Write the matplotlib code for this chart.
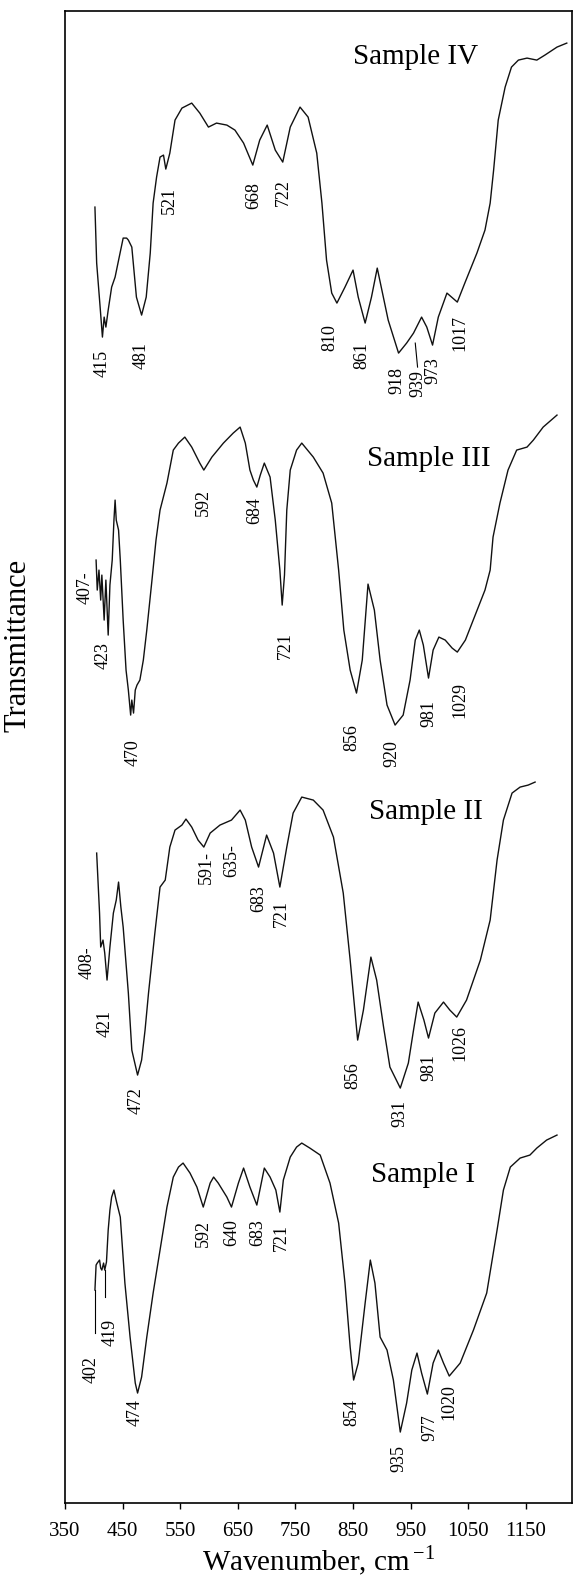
import matplotlib
matplotlib.use("Agg")
import matplotlib.pyplot as plt

plt.rcParams['font.family'] = ['Liberation Serif', 'DejaVu Serif']
plt.rcParams['mathtext.fontset'] = 'custom'
plt.rcParams['mathtext.rm'] = 'Liberation Serif'

# wavenumber (cm-1) and transmittance (a.u., spectra stacked)
wn4 = [402, 405, 411, 415, 418, 421, 425, 431, 437, 442, 451, 457, 460, 466, 474, 483, 491, 498,
       503, 509, 515, 521, 525, 532, 541, 553, 570, 584, 599, 613, 631, 645, 660, 676, 688, 701,
       715, 728, 741, 758, 772, 787, 796, 804, 813, 822, 836, 850, 859, 871, 882, 892, 911, 929,
       943, 955, 969, 978, 988, 998, 1013, 1021, 1031, 1044, 1065, 1079, 1088, 1094, 1102, 1114,
       1125, 1137, 1152, 1169, 1183, 1204, 1221]
t4 = [129.6, 124.0, 119.6, 116.6, 118.6, 117.6, 119.3, 121.6, 122.6, 124.0, 126.5, 126.5, 126.3,
      125.6, 120.6, 118.8, 120.6, 125.0, 130.0, 132.6, 134.6, 134.8, 133.4, 135.0, 138.3, 139.5,
      140.0, 139.0, 137.6, 138.0, 137.8, 137.3, 136.0, 133.8, 136.3, 137.8, 135.3, 134.1, 137.6,
      139.6, 138.6, 135.0, 130.0, 124.3, 121.0, 120.0, 121.6, 123.3, 120.6, 118.0, 120.6, 123.5,
      118.3, 115.0, 116.0, 117.0, 118.6, 117.6, 115.8, 118.6, 121.0, 120.6, 120.1, 122.0, 125.0,
      127.3, 130.0, 133.3, 138.3, 141.6, 143.6, 144.3, 144.5, 144.3, 144.8, 145.6, 146.0]

wn3 = [404, 406, 409, 412, 414, 418, 421, 425, 428, 432, 435, 437, 439, 443, 446, 451, 456, 460,
       464, 466, 469, 472, 475, 480, 486, 492, 501, 508, 515, 527, 538, 547, 558, 570, 584, 591,
       605, 625, 642, 654, 663, 671, 677, 683, 689, 696, 706, 715, 723, 727, 731, 735, 741, 752,
       761, 781, 798, 813, 825, 834, 845, 856, 866, 876, 887, 897, 909, 923, 937, 949, 958, 965,
       972, 981, 989, 999, 1010, 1022, 1031, 1045, 1062, 1079, 1088, 1093, 1105, 1119, 1134, 1152,
       1163, 1180, 1204]
t3 = [94.3, 91.3, 93.3, 90.3, 92.8, 88.3, 92.3, 86.8, 91.8, 94.3, 98.3, 100.3, 98.3, 97.3, 94.3,
      88.3, 83.3, 81.3, 78.8, 80.3, 79.0, 81.3, 81.8, 82.3, 84.3, 87.3, 92.3, 96.3, 99.3, 102.0,
      105.3, 106.0, 106.6, 105.6, 104.0, 103.3, 104.6, 106.0, 107.0, 107.6, 106.0, 103.3, 102.3,
      101.6, 102.8, 104.0, 102.6, 98.3, 93.3, 89.8, 92.8, 99.3, 103.3, 105.3, 106.0, 104.6, 103.0,
      100.0, 93.3, 87.3, 83.3, 81.0, 84.3, 91.9, 89.3, 84.3, 79.8, 77.8, 78.8, 82.3, 86.3, 87.3,
      85.8, 82.5, 85.3, 86.6, 86.3, 85.5, 85.1, 86.3, 88.8, 91.3, 93.3, 96.6, 100.0, 103.3, 105.3,
      105.6, 106.3, 107.6, 108.8]

wn2 = [405, 410, 412, 416, 419, 423, 428, 434, 439, 443, 447, 451, 460, 466, 476, 483, 489, 495,
       506, 515, 524, 532, 541, 553, 560, 570, 581, 591, 602, 619, 639, 654, 663, 674, 686, 700,
       712, 723, 735, 746, 761, 781, 798, 816, 833, 845, 858, 868, 881, 891, 903, 914, 932, 946,
       955, 963, 973, 981, 992, 1007, 1018, 1030, 1047, 1071, 1088, 1100, 1111, 1126, 1140, 1154,
       1166]
t2 = [65.0, 59.0, 55.6, 56.3, 55.0, 52.3, 55.6, 59.0, 60.3, 62.1, 59.6, 57.6, 51.0, 45.3, 42.8,
      44.3, 47.3, 51.0, 57.0, 61.6, 62.3, 65.6, 67.3, 67.8, 68.4, 67.6, 66.3, 65.6, 67.0, 67.8,
      68.3, 69.3, 68.3, 65.6, 63.6, 66.8, 65.0, 61.6, 65.6, 69.0, 70.6, 70.3, 69.3, 66.6, 61.0,
      54.3, 46.3, 49.3, 54.6, 52.3, 47.6, 43.6, 41.5, 44.0, 47.3, 50.1, 48.3, 46.5, 49.0, 50.1,
      49.3, 48.6, 50.3, 54.3, 58.3, 64.3, 68.3, 71.0, 71.6, 71.8, 72.1]

wn1 = [402, 404, 406, 410, 412, 414, 417, 419, 422, 425, 428, 431, 435, 438, 440, 446, 454, 463,
       472, 476, 483, 492, 503, 515, 527, 538, 547, 555, 567, 579, 590, 602, 608, 616, 631, 639,
       651, 660, 671, 683, 696, 706, 716, 723, 729, 741, 752, 761, 775, 793, 810, 825, 836, 845,
       851, 859, 871, 880, 888, 897, 909, 920, 932, 943, 952, 961, 969, 979, 989, 998, 1007, 1017,
       1036, 1059, 1082, 1100, 1111, 1123, 1140, 1157, 1169, 1186, 1204]
t1 = [21.3, 23.8, 24.0, 24.3, 23.5, 23.3, 24.0, 23.3, 24.1, 27.3, 29.3, 30.6, 31.3, 30.5, 30.0,
      28.6, 22.0, 16.6, 12.0, 11.0, 12.6, 16.6, 21.0, 25.3, 29.6, 32.6, 33.6, 34.0, 33.0, 31.6,
      29.6, 32.0, 32.6, 32.0, 30.6, 29.6, 32.0, 33.5, 31.6, 29.8, 33.5, 32.6, 31.3, 29.1, 32.3,
      34.6, 35.6, 36.0, 35.5, 34.8, 32.0, 28.0, 22.0, 15.6, 12.3, 14.0, 20.0, 24.3, 22.0, 16.6,
      15.3, 12.3, 7.1, 10.0, 13.3, 15.0, 13.0, 10.9, 14.0, 15.3, 14.0, 12.7, 14.0, 17.3, 21.0,
      27.3, 31.3, 33.6, 34.5, 34.8, 35.5, 36.3, 36.8]

# peak labels: text, wavenumber, height
peaks4 = [("415", 415, 114.0), ("481", 483, 114.8), ("521", 532, 130.3), ("668", 677, 130.8),
          ("722", 729, 131.1), ("810", 809, 116.6), ("861", 865, 114.8), ("918", 926, 112.3),
          ("939", 963, 112.0), ("973", 989, 113.3), ("1017", 1036, 117.0)]
peaks3 = [("407-", 385, 91.5), ("423", 416, 84.8), ("470", 469, 75.0), ("592", 590, 100.1),
          ("684", 680, 99.3), ("721", 732, 85.8), ("856", 848, 76.6), ("920", 917, 75.0),
          ("981", 981, 79.0), ("1029", 1036, 80.3)]
peaks2 = [("408-", 388, 54.0), ("421", 419, 48.0), ("472", 473, 40.3), ("591-", 595, 63.6),
          ("635-", 639, 64.3), ("683", 686, 60.5), ("721", 726, 59.0), ("856", 850, 42.8),
          ("931", 932, 39.0), ("981", 981, 43.6), ("1026", 1036, 46.0)]
peaks1 = [("402", 396, 13.3), ("419", 428, 17.1), ("474", 472, 9.0), ("592", 591, 27.0),
          ("640", 639, 27.1), ("683", 684, 27.1), ("721", 726, 26.6), ("854", 848, 9.0),
          ("935", 929, 4.5), ("977", 984, 7.5), ("1020", 1017, 10.1)]

samples = ["Sample IV", "Sample III", "Sample II", "Sample I"]
sample_pos = [(958, 144.6), (982, 104.4), (977, 69.1), (972, 32.8)]

xticks = [350, 450, 550, 650, 750, 850, 950, 1050, 1150]

fig = plt.figure(figsize=(5.73, 15.85), dpi=100)
ax = fig.add_axes([0.1134, 0.0517, 0.8848, 0.9413])

for wn, t in [(wn4, t4), (wn3, t3), (wn2, t2), (wn1, t1)]:
    ax.plot(wn, t, color='#111111', lw=1.0)

for peaks in [peaks4, peaks3, peaks2, peaks1]:
    for txt, x, y in peaks:
        ax.text(x, y, txt, rotation=90, ha='center', va='center', fontsize=13)

# pointer lines for crowded labels
ax.plot([958, 962], [116.0, 113.6], color='black', lw=0.8)
ax.plot([402, 402], [21.3, 17.0], color='black', lw=0.8)
ax.plot([419, 419], [23.3, 20.6], color='black', lw=0.8)

for name, (x, y) in zip(samples, sample_pos):
    ax.text(x, y, name, ha='center', va='center', fontsize=21)

ax.set_xlim(350, 1230)
ax.set_ylim(0, 149.2)
ax.set_xticks(xticks)
ax.set_xticklabels([str(v) for v in xticks], fontsize=15)
ax.set_yticks([])
ax.tick_params(axis='x', direction='out', length=4, width=1, pad=10)
for s in ax.spines.values():
    s.set_linewidth(1.2)

ax.set_xlabel('Wavenumber, cm$^{\\,\\mathregular{-1}}$', fontsize=21, labelpad=2)
ax.set_ylabel('Transmittance', fontsize=22)
ax.yaxis.set_label_coords(-0.065, 0.575)

fig.savefig("out.png", dpi=100)
